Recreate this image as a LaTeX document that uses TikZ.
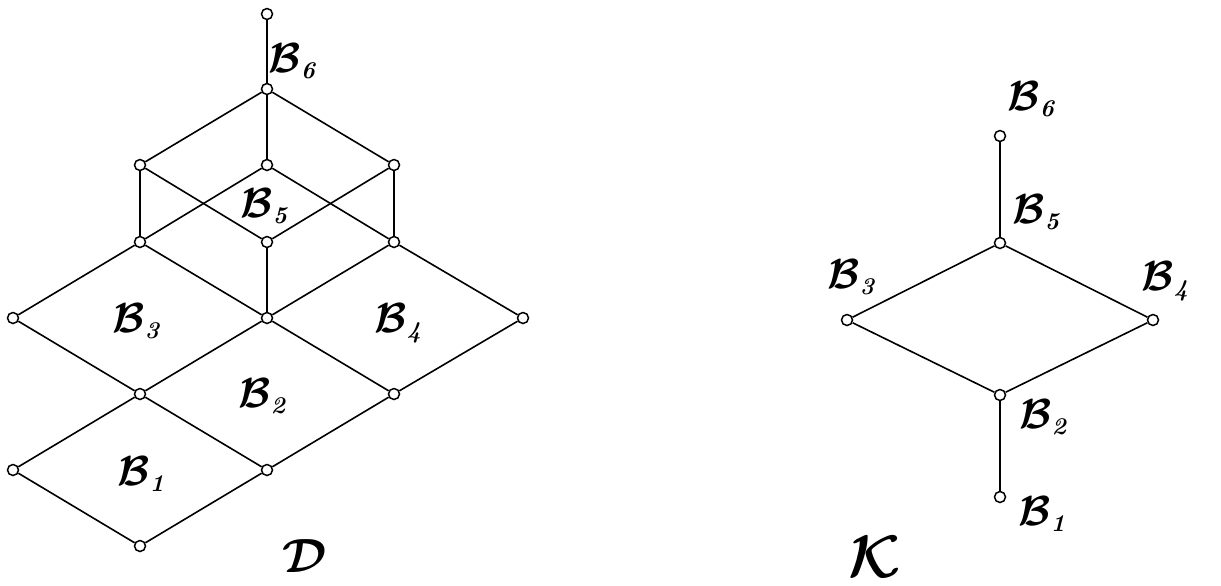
\RequirePackage{fix-cm}
\documentclass[tikz,border=0pt]{standalone}
\usepackage{amsmath}
\usepackage{bm}
\usepackage{tikz}
\usetikzlibrary{positioning}

\newcommand{\Bsub}[1]{$\bm{\mathcal{B}}_{\mbox{\fontsize{12}{12}\selectfont\bfseries\itshape #1}}$}

\begin{document}
\begin{tikzpicture}[x=0.5pt, y=-0.5pt,
		vtx/.style={circle, draw, fill=white, inner sep=0pt, minimum size=5.5pt, line width=0.75pt},
		lbl/.style={anchor=base west, inner sep=0pt, font=\fontsize{21}{24}\selectfont},
		title/.style={anchor=base west, inner sep=0pt, font=\fontsize{24}{28}\selectfont},
		edge/.style={line width=0.8pt}]
		\useasboundingbox (0,0) rectangle (1221,585);
		
		% lattice D
		\node[vtx] (dtop) at (267,14) {};
		\node[vtx] (du) at (267,89) {};
		\node[vtx] (da1) at (140,165) {};
		\node[vtx] (da2) at (267,165) {};
		\node[vtx] (da3) at (394,165) {};
		\node[vtx] (db1) at (140,242) {};
		\node[vtx] (db2) at (267,242) {};
		\node[vtx] (db3) at (394,242) {};
		\node[vtx] (dc1) at (13,318) {};
		\node[vtx] (dc2) at (267,318) {};
		\node[vtx] (dc3) at (523,318) {};
		\node[vtx] (de1) at (140,394) {};
		\node[vtx] (de2) at (394,394) {};
		\node[vtx] (df1) at (13,470) {};
		\node[vtx] (df2) at (267,470) {};
		\node[vtx] (dbot) at (140,546) {};
		
		\draw[edge] (dtop) -- (du);
		\draw[edge] (du) -- (da1);
		\draw[edge] (du) -- (da2);
		\draw[edge] (du) -- (da3);
		\draw[edge] (da1) -- (db1);
		\draw[edge] (da1) -- (db2);
		\draw[edge] (da2) -- (db1);
		\draw[edge] (da2) -- (db3);
		\draw[edge] (da3) -- (db3);
		\draw[edge] (da3) -- (db2);
		\draw[edge] (db1) -- (dc1);
		\draw[edge] (db1) -- (dc2);
		\draw[edge] (db2) -- (dc2);
		\draw[edge] (db3) -- (dc2);
		\draw[edge] (db3) -- (dc3);
		\draw[edge] (dc1) -- (de1);
		\draw[edge] (dc2) -- (de1);
		\draw[edge] (dc2) -- (de2);
		\draw[edge] (dc3) -- (de2);
		\draw[edge] (de1) -- (df1);
		\draw[edge] (de1) -- (df2);
		\draw[edge] (de2) -- (df2);
		\draw[edge] (df1) -- (dbot);
		\draw[edge] (df2) -- (dbot);
		
		\node[lbl] (dB6) at (268,72) {\Bsub{6}};
		\node[lbl] (dB5) at (240,217) {\Bsub{5}};
		\node[lbl] (dB3) at (112,332) {\Bsub{3}};
		\node[lbl] (dB4) at (374,332) {\Bsub{4}};
		\node[lbl] (dB2) at (238,407) {\Bsub{2}};
		\node[lbl] (dB1) at (117,485) {\Bsub{1}};
		\node[title] (dname) at (282,572) {$\bm{\mathcal{D}}$};
		
		% lattice K
		\node[vtx] (k6) at (1000,136) {};
		\node[vtx] (k5) at (1000,243) {};
		\node[vtx] (k3) at (847,320) {};
		\node[vtx] (k4) at (1153,320) {};
		\node[vtx] (k2) at (1000,395) {};
		\node[vtx] (k1) at (1000,497) {};
		
		\draw[edge] (k6) -- (k5);
		\draw[edge] (k5) -- (k3);
		\draw[edge] (k5) -- (k4);
		\draw[edge] (k3) -- (k2);
		\draw[edge] (k4) -- (k2);
		\draw[edge] (k2) -- (k1);
		
		\node[lbl] (kB6) at (1007,110) {\Bsub{6}};
		\node[lbl] (kB5) at (1012,223) {\Bsub{5}};
		\node[lbl] (kB3) at (827,288) {\Bsub{3}};
		\node[lbl] (kB4) at (1141,290) {\Bsub{4}};
		\node[lbl] (kB2) at (1019,428) {\Bsub{2}};
		\node[lbl] (kB1) at (1018,525) {\Bsub{1}};
		\node[title, font=\fontsize{30}{34}\selectfont] (kname) at (848,577) {$\bm{\mathcal{K}}$};
	\end{tikzpicture}
\end{document}
